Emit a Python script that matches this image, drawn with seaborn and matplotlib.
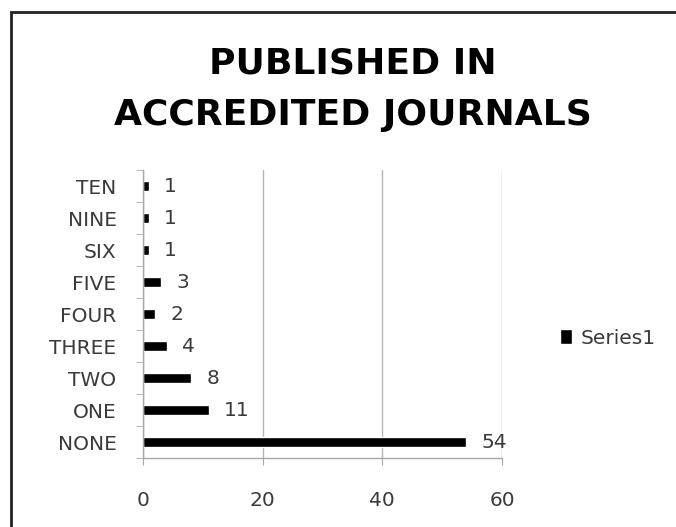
import matplotlib
matplotlib.use('Agg')
import matplotlib.pyplot as plt
from matplotlib.patches import Rectangle
import seaborn as sns

# Dữ liệu (từ trên xuống dưới)
categories = ['TEN', 'NINE', 'SIX', 'FIVE', 'FOUR', 'THREE', 'TWO', 'ONE', 'NONE']
values = [1, 1, 1, 3, 2, 4, 8, 11, 54]
x_ticks = [0, 20, 40, 60]
series_name = 'Series1'
title_lines = ['PUBLISHED IN', 'ACCREDITED JOURNALS']

sns.set_style('white')
plt.rcParams['font.family'] = ['DejaVu Sans']

W, H = 676, 527
fig = plt.figure(figsize=(W / 100, H / 100), dpi=100)
ax = fig.add_axes([143 / W, 1 - 458 / H, (502 - 143) / W, (458 - 170) / H])

sns.barplot(x=values, y=categories, orient='h', color='black',
            width=0.32, label=series_name, ax=ax, saturation=1)

ax.set_xlim(0, 60)
ax.set_xticks(x_ticks)
ax.set_xlabel('')
ax.set_ylabel('')

# Lưới dọc màu xám
ax.grid(axis='x', color='#b5b5b5', linewidth=1)
ax.grid(axis='y', visible=False)
ax.set_axisbelow(True)

for side in ['top', 'right']:
    ax.spines[side].set_visible(False)
for side in ['left', 'bottom']:
    ax.spines[side].set_color('#a8a8a8')
    ax.spines[side].set_linewidth(1)

# Vạch chia giữa các nhóm trên trục y
ax.set_yticks([i + 0.5 for i in range(-1, len(categories))], minor=True)
ax.tick_params(axis='y', which='major', length=0, pad=19,
               labelsize=14.5, labelcolor='#3a3a3a')
ax.tick_params(axis='y', which='minor', length=5, color='#a8a8a8', left=True)
ax.tick_params(axis='x', which='major', length=5, color='#a8a8a8', bottom=True,
               pad=19, labelsize=14.5, labelcolor='#3a3a3a')

# Nhãn giá trị
for container in ax.containers:
    ax.bar_label(container, padding=11, fontsize=14.5, color='#3a3a3a')

# Tiêu đề (hai dòng, đặt theo đường cơ sở)
for line, base in zip(title_lines, [73, 125]):
    fig.text(353 / W, 1 - base / H, line, ha='center', va='baseline',
             fontsize=26, weight='bold', color='black')

# Chú thích
ax.legend(loc='center left', bbox_to_anchor=(542 / W, 1 - 338 / H),
          bbox_transform=fig.transFigure, frameon=False, fontsize=14.5,
          handlelength=0.6, handleheight=0.7, handletextpad=0.4,
          labelcolor='#3a3a3a')

# Khung viền ngoài
fig.add_artist(Rectangle((11 / W, -0.1), 1.2, 1.1 - 12 / H,
                         transform=fig.transFigure, fill=False,
                         linewidth=2, edgecolor='#222222'))

plt.savefig('out.png', dpi=100)
